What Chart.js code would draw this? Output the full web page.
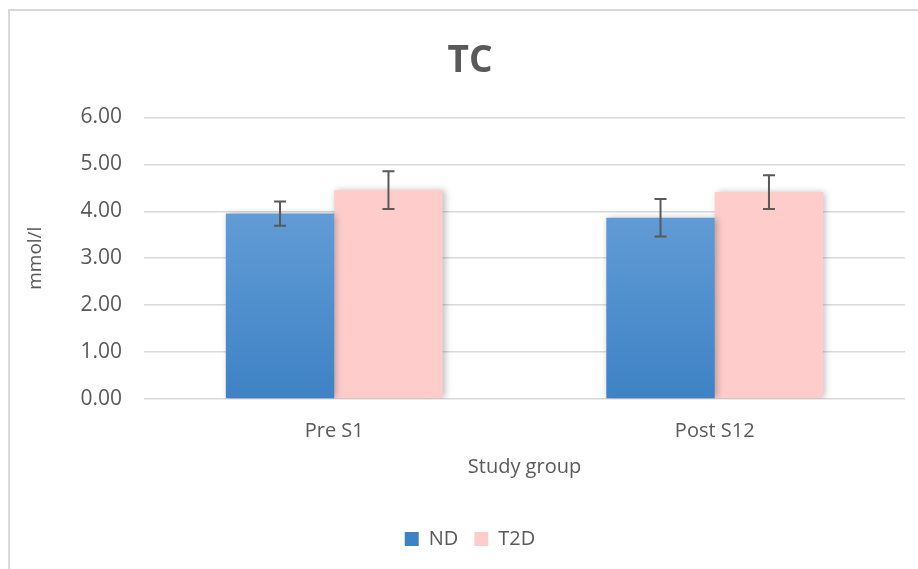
<!DOCTYPE html>
<html>
<head>
<meta charset="utf-8">
<script src="https://cdn.jsdelivr.net/npm/chart.js@4/dist/chart.umd.min.js"></script>
<style>
  html, body { margin: 0; padding: 0; background: #fff; overflow: hidden; }
  #wrap {
    position: absolute; left: 8px; top: 9px; width: 945px; height: 560px;
    border-left: 2px solid #d9d9d9; border-top: 2px solid #d9d9d9;
  }
</style>
</head>
<body>
<div id="wrap"><canvas id="myChart"></canvas></div>
<script>
var categories = ['Pre S1', 'Post S12'];
var ndValues = [3.95, 3.86];
var ndErrors = [0.26, 0.40];
var t2dValues = [4.45, 4.41];
var t2dErrors = [0.40, 0.36];
var yTicks = [0, 1, 2, 3, 4, 5, 6];

var textColor = '#595959';
var fontName = '"Open Sans", "DejaVu Sans", sans-serif';

function blueFill(context) {
    var chart = context.chart;
    var area = chart.chartArea;
    if (!area) return '#5b9bd5';
    var g = chart.ctx.createLinearGradient(0, area.top, 0, area.bottom);
    g.addColorStop(0, '#74a9de');
    g.addColorStop(1, '#3e82c5');
    return g;
}

// soft grey shadow round the bars, as in the office chart
var barShadow = {
    id: 'barShadow',
    beforeDatasetsDraw: function(chart) {
        var ctx = chart.ctx;
        ctx.save();
        ctx.shadowColor = 'rgba(0,0,0,0.28)';
        ctx.shadowBlur = 7;
        ctx.shadowOffsetX = 2;
        ctx.shadowOffsetY = 0;
    },
    afterDatasetsDraw: function(chart) {
        chart.ctx.restore();
    }
};

var errorBars = {
    id: 'errorBars',
    afterDatasetsDraw: function(chart) {
        var ctx = chart.ctx;
        var y = chart.scales.y;
        ctx.save();
        ctx.strokeStyle = '#595959';
        ctx.lineWidth = 2;
        chart.data.datasets.forEach(function(ds, i) {
            var meta = chart.getDatasetMeta(i);
            meta.data.forEach(function(bar, j) {
                var v = ds.data[j], e = ds.errors[j];
                var top = y.getPixelForValue(v + e);
                var bot = y.getPixelForValue(v - e);
                var x = bar.x, cap = 6;
                ctx.beginPath();
                ctx.moveTo(x, top); ctx.lineTo(x, bot);
                ctx.moveTo(x - cap, top); ctx.lineTo(x + cap, top);
                ctx.moveTo(x - cap, bot); ctx.lineTo(x + cap, bot);
                ctx.stroke();
            });
        });
        ctx.restore();
    }
};

var config = {
    type: 'bar',
    data: {
        labels: categories,
        datasets: [{
            label: 'ND',
            data: ndValues,
            errors: ndErrors,
            backgroundColor: blueFill
        }, {
            label: 'T2D',
            data: t2dValues,
            errors: t2dErrors,
            backgroundColor: '#ffcccc'
        }]
    },
    options: {
        responsive: true,
        maintainAspectRatio: false,
        animation: false,
        layout: { padding: { left: 25, right: 50, top: 0, bottom: 12 } },
        datasets: {
            bar: { barPercentage: 1, categoryPercentage: 0.57 }
        },
        scales: {
            x: {
                grid: { display: false },
                border: { display: false },
                ticks: { color: textColor, font: { family: fontName, size: 20 }, padding: 12 },
                title: {
                    display: true,
                    text: 'Study group',
                    color: textColor,
                    font: { family: fontName, size: 20 },
                    padding: { top: 0, bottom: 34 }
                },
                afterFit: function(scale) { scale.height = 114; }
            },
            y: {
                min: 0,
                max: 6,
                afterBuildTicks: function(scale) {
                    scale.ticks = yTicks.map(function(v) { return { value: v }; });
                },
                grid: { color: '#d9d9d9', lineWidth: 1.5, drawTicks: false },
                border: { display: false },
                ticks: {
                    color: textColor,
                    font: { family: fontName, size: 21 },
                    padding: 22,
                    callback: function(v) { return Number(v).toFixed(2); }
                },
                title: {
                    display: true,
                    text: 'mmol/l',
                    color: textColor,
                    font: { family: fontName, size: 19 },
                    padding: { top: -11, bottom: 0 }
                },
                afterFit: function(scale) { scale.width = 109; }
            }
        },
        plugins: {
            title: {
                display: true,
                text: 'TC',
                color: textColor,
                font: { family: fontName, size: 37, weight: 'bold' },
                padding: { top: 28, bottom: 34 }
            },
            legend: {
                position: 'bottom',
                labels: {
                    color: textColor,
                    font: { family: fontName, size: 20 },
                    boxWidth: 14,
                    boxHeight: 14,
                    padding: 16
                }
            },
            tooltip: { enabled: false }
        }
    },
    plugins: [barShadow, errorBars]
};

window.myChart = new Chart(document.getElementById('myChart').getContext('2d'), config);
</script>
</body>
</html>
